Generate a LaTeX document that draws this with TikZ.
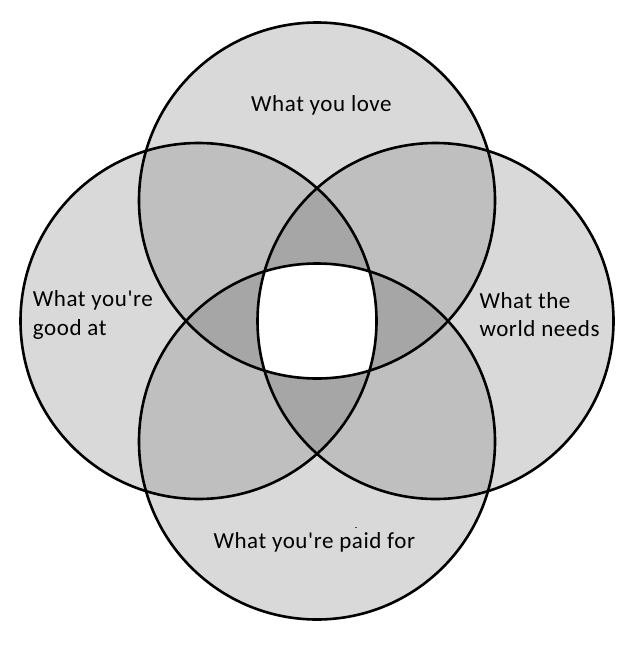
\documentclass[tikz,border=0pt]{standalone}
\usepackage{fontspec}
\setmainfont{Carlito}[Ligatures=TeXOff,LetterSpace=2.5]
\definecolor{cone}{HTML}{D9D9D9}
\definecolor{ctwo}{HTML}{BFBFBF}
\definecolor{cthree}{HTML}{A6A6A6}
\begin{document}
\begin{tikzpicture}[x=1pt,y=-1pt,
  lbl/.style={inner sep=0pt,font=\fontsize{23}{28.3}\selectfont,text=black},
  ring/.style={draw=black,line width=2.6pt}]
\useasboundingbox (0,0) rectangle (641,645);
\fill[white] (0,0) rectangle (641,645);
\def\rad{178pt}
\def\CT{(317,200.5) circle[radius=\rad]}
\def\CB{(317,441.5) circle[radius=\rad]}
\def\CL{(198.5,321) circle[radius=\rad]}
\def\CR{(435.5,321) circle[radius=\rad]}
% singles
\fill[cone] \CT; \fill[cone] \CB; \fill[cone] \CL; \fill[cone] \CR;
% pairs
\begin{scope}\clip \CT; \fill[ctwo] \CL; \fill[ctwo] \CR; \fill[ctwo] \CB; \end{scope}
\begin{scope}\clip \CB; \fill[ctwo] \CL; \fill[ctwo] \CR; \end{scope}
\begin{scope}\clip \CL; \fill[ctwo] \CR; \end{scope}
% triples
\begin{scope}\clip \CT; \clip \CL; \fill[cthree] \CR; \fill[cthree] \CB; \end{scope}
\begin{scope}\clip \CT; \clip \CR; \fill[cthree] \CB; \end{scope}
\begin{scope}\clip \CB; \clip \CL; \fill[cthree] \CR; \end{scope}
% all four
\begin{scope}\clip \CT; \clip \CB; \clip \CL; \fill[white] \CR; \end{scope}
% outlines
\draw[ring] \CT; \draw[ring] \CB; \draw[ring] \CL; \draw[ring] \CR;
% labels (base anchor of a two-line node is on its last line)
\node[lbl,anchor=base west] (love) at (251,111.7) {What you love};
\node[lbl,anchor=base west,align=left] (good) at (32.7,335) {What you're\\good at};
\node[lbl,anchor=base west,align=left] (world) at (479.3,336.7) {What the\\world needs};
\node[lbl,anchor=base west] (paid) at (213.3,548.3) {What you're paid for};
\draw[black!70,line width=0.9pt] (354.5,527.7) -- (357,527.7);
\end{tikzpicture}
\end{document}
